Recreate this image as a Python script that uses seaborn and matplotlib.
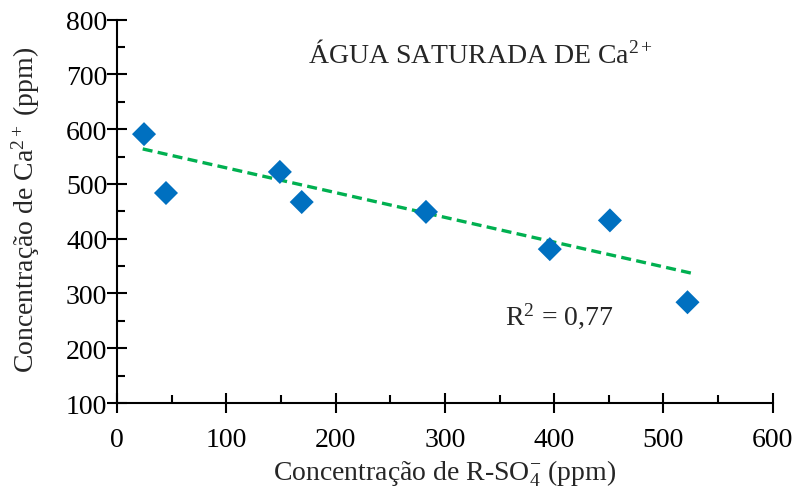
import matplotlib
matplotlib.use("Agg")
import matplotlib.pyplot as plt
from matplotlib.ticker import MultipleLocator
import pandas as pd
import seaborn as sns

# Measured data: sulfonated resin vs. calcium concentration
r_so4 = [24.7, 44.8, 149, 169, 282.7, 396, 451, 522]
ca = [591, 483.5, 522, 467, 449, 381, 433.5, 284]

# Linear trendline end points
trend_x = [23.5, 528]
trend_y = [564, 336]

x_ticks = [0, 100, 200, 300, 400, 500, 600]
y_ticks = [100, 200, 300, 400, 500, 600, 700, 800]

title_text = "ÁGUA SATURADA DE Ca$^{2+}$"
r2_text = "R$^{2}$ = 0,77"
x_label = "Concentração de R-SO$_{4}^{-}$ (ppm)"
y_label = "Concentração de Ca$^{2+}$ (ppm)"

df = pd.DataFrame({"r_so4": r_so4, "ca": ca})
trend = pd.DataFrame({"x": trend_x, "y": trend_y})

sns.set_style("white")
plt.rcParams["font.family"] = ["Liberation Serif", "DejaVu Serif"]
plt.rcParams["mathtext.fontset"] = "custom"
plt.rcParams["mathtext.rm"] = "Liberation Serif"
plt.rcParams["mathtext.it"] = "Liberation Serif:italic"
plt.rcParams["mathtext.bf"] = "Liberation Serif:bold"

FS = 20

fig = plt.figure(figsize=(7.95, 4.89), dpi=100)
ax = fig.add_axes([0.1472, 0.1738, 0.972 - 0.1472, 0.9577 - 0.1738])

sns.lineplot(data=trend, x="x", y="y", ax=ax, color="#00B050",
             linestyle=(0, (3, 1.6)), linewidth=2.4)

sns.scatterplot(data=df, x="r_so4", y="ca", ax=ax, marker="D", s=150,
                color="#0070C0", edgecolor="none", zorder=3)

ax.set_xlim(0, 600)
ax.set_ylim(100, 800)
ax.set_xticks(x_ticks)
ax.set_yticks(y_ticks)
ax.xaxis.set_minor_locator(MultipleLocator(50))
ax.yaxis.set_minor_locator(MultipleLocator(50))

for side in ("top", "right"):
    ax.spines[side].set_visible(False)
for side in ("left", "bottom"):
    ax.spines[side].set_linewidth(1.5)
    ax.spines[side].set_color("black")

ax.tick_params(which="both", bottom=True, left=True, top=False, right=False)
ax.tick_params(which="major", direction="inout", length=14, width=1.5,
               labelsize=FS, colors="black")
ax.tick_params(which="minor", direction="in", length=6, width=1.5,
               colors="black")
ax.tick_params(axis="x", which="major", pad=10)
ax.tick_params(axis="y", which="major", pad=0)

ax.set_xlabel(x_label, fontsize=FS, labelpad=4)
ax.set_ylabel(y_label, fontsize=FS)
ax.yaxis.set_label_coords(-0.114, 0.505)

ax.text(332, 737, title_text, ha="center", va="center", fontsize=FS)
ax.text(405, 261, r2_text, ha="center", va="center", fontsize=FS)

fig.savefig("out.png", dpi=100, facecolor="white")
